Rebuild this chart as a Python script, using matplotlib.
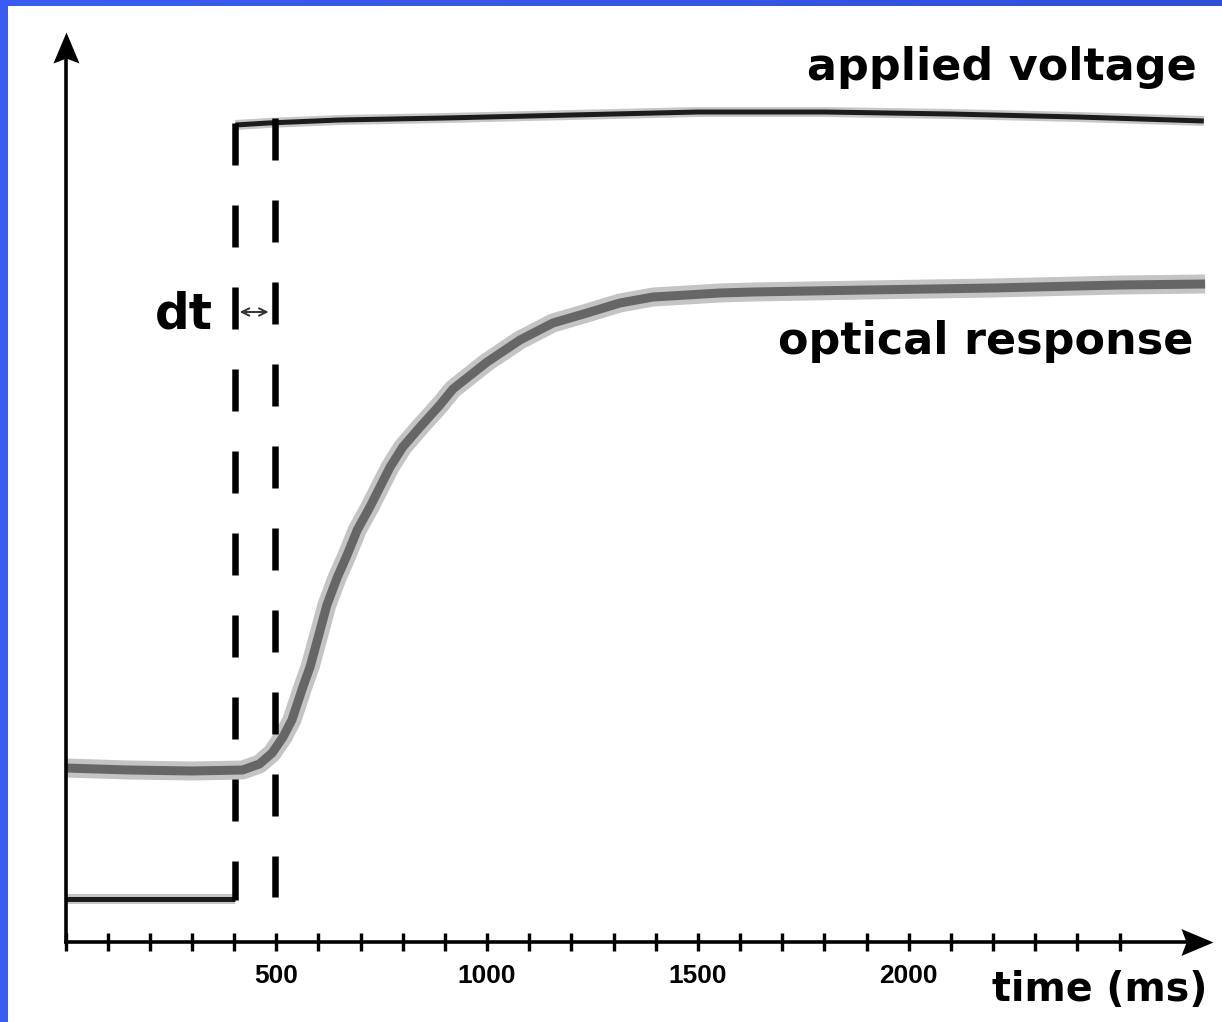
import matplotlib
matplotlib.use("Agg")
import matplotlib.pyplot as plt
import numpy as np
from matplotlib.path import Path
from matplotlib.patches import Rectangle
from matplotlib.colors import LinearSegmentedColormap

plt.rcParams['lines.scale_dashes'] = False

# ---------------- data (time in ms, signal in arbitrary units) ----------------
voltage_off_t = [0, 403]
voltage_off_v = [43, 43]
voltage_on_t = [403, 480, 650, 900, 1200, 1500, 1800, 2100, 2400, 2700]
voltage_on_v = [817, 819, 822, 824, 827, 830, 830, 828, 825, 821]

optical_t = [0, 150, 300, 420, 460, 490, 516, 537, 563, 580, 604, 620, 644, 668,
             692, 722, 746, 770, 800, 841, 888, 919, 1000, 1078, 1156, 1237, 1315,
             1394, 1474, 1552, 1630, 1900, 2200, 2500, 2703]
optical_v = [174, 172, 171, 172, 178, 189, 205, 222, 255, 275, 312, 337, 364, 387,
             412, 435, 455, 475, 495, 515, 537, 553, 580, 602, 619, 629, 639,
             645, 647, 649, 650, 652, 654, 657, 658]

step_time = 403       # applied voltage switched on
onset_time = 496      # optical response starts
tick_step = 100
labelled_ticks = [500, 1000, 1500, 2000]

# ---------------- figure ----------------
W, H = 1222, 1022
fig = plt.figure(figsize=(W / 100, H / 100), dpi=100)
fig.patch.set_facecolor('white')

px_per_ms = 0.4216
x_origin_px = 65.5
y_axis_px = 942
ax = fig.add_axes([0, 0, 1, 1])
ax.set_xlim(-x_origin_px / px_per_ms, (W - x_origin_px) / px_per_ms)
ax.set_ylim(-(H - y_axis_px), y_axis_px)
ax.set_facecolor('none')

PT = 0.72  # points per pixel at 100 dpi

# applied voltage trace
for tt, vv in ((voltage_off_t, voltage_off_v), (voltage_on_t, voltage_on_v)):
    ax.plot(tt, vv, color='#9a9a9a', lw=10 * PT, alpha=0.55, solid_capstyle='butt', zorder=3)
    ax.plot(tt, vv, color='#1c1c1c', lw=5 * PT, solid_capstyle='butt', zorder=4)

# optical response trace
ax.plot(optical_t, optical_v, color='#c4c4c4', lw=19 * PT, solid_capstyle='butt',
        solid_joinstyle='round', zorder=3)
ax.plot(optical_t, optical_v, color='#666666', lw=9 * PT, solid_capstyle='butt',
        solid_joinstyle='round', zorder=4)

# dashed guide lines
ax.plot([step_time, step_time], [819, 42], color='black', lw=6.5 * PT,
        dashes=(42 * PT, 40 * PT), dash_capstyle='butt', zorder=5)
ax.plot([onset_time, onset_time], [824, 45], color='black', lw=6.5 * PT,
        dashes=(42 * PT, 40 * PT), dash_capstyle='butt', zorder=5)

# dt double arrow
ax.annotate('', xy=(onset_time - 14, 630), xytext=(step_time + 10, 630),
            arrowprops=dict(arrowstyle='<->,head_length=0.45,head_width=0.22',
                            lw=1.4, color='#333333', shrinkA=0, shrinkB=0,
                            mutation_scale=12), zorder=6)

# axes (spines) with arrowheads
for s in ('top', 'right'):
    ax.spines[s].set_visible(False)
ax.spines['left'].set_position(('data', 0))
ax.spines['bottom'].set_position(('data', 0))
ax.spines['left'].set_bounds(0, 890)
ax.spines['bottom'].set_bounds(0, 2700)
for s in ('left', 'bottom'):
    ax.spines[s].set_linewidth(3.6 * PT)
    ax.spines[s].set_zorder(6)

up_arrow = Path([(0, 0), (0.42, -1), (0, -0.84), (-0.42, -1), (0, 0)],
                [Path.MOVETO, Path.LINETO, Path.LINETO, Path.LINETO, Path.CLOSEPOLY])
right_arrow = Path([(0, 0), (-1, 0.42), (-0.84, 0), (-1, -0.42), (0, 0)],
                   [Path.MOVETO, Path.LINETO, Path.LINETO, Path.LINETO, Path.CLOSEPOLY])
ax.plot([0], [910], marker=up_arrow, markersize=62 * PT, color='black',
        markeredgewidth=0, zorder=7, clip_on=False)
ax.plot([2722], [0], marker=right_arrow, markersize=64 * PT, color='black',
        markeredgewidth=0, zorder=7, clip_on=False)

ticks = np.arange(0, 2501, tick_step)
ax.set_xticks(ticks)
ax.set_xticklabels([str(t) if t in labelled_ticks else '' for t in ticks],
                   fontfamily='Liberation Sans', fontweight='bold')
ax.tick_params(axis='x', direction='inout', length=18 * PT, width=3.4 * PT,
               pad=9, labelsize=19, colors='black')
ax.tick_params(axis='y', left=False, labelleft=False)

# labels
ax.text((1197 - x_origin_px) / px_per_ms, y_axis_px - 80, 'applied voltage',
        ha='right', va='baseline', fontsize=32, fontweight='bold',
        fontfamily='DejaVu Sans', zorder=8)
ax.text((1193 - x_origin_px) / px_per_ms, y_axis_px - 354, 'optical response',
        ha='right', va='baseline', fontsize=32, fontweight='bold',
        fontfamily='DejaVu Sans', zorder=8)
ax.text((213 - x_origin_px) / px_per_ms, y_axis_px - 328, 'dt',
        ha='right', va='baseline', fontsize=35, fontweight='bold',
        fontfamily='DejaVu Sans', zorder=8)
ax.text((1207 - x_origin_px) / px_per_ms, y_axis_px - 1001, 'time (ms)',
        ha='right', va='baseline', fontsize=28.5, fontweight='bold',
        fontfamily='DejaVu Sans', zorder=8)

# blue frame (slide background edges)
fig.patches.append(Rectangle((0, 0), 8 / W, 1, transform=fig.transFigure,
                             facecolor='#3b5cf2', edgecolor='none', zorder=10))
bax = fig.add_axes([0, 1 - 6 / H, 1, 6 / H])
bax.imshow(np.linspace(0, 1, 256)[None, :], aspect='auto',
           cmap=LinearSegmentedColormap.from_list('b', ['#3b5cf2', '#3050d8']))
bax.axis('off')

fig.savefig('out.png', dpi=100, facecolor='white')
